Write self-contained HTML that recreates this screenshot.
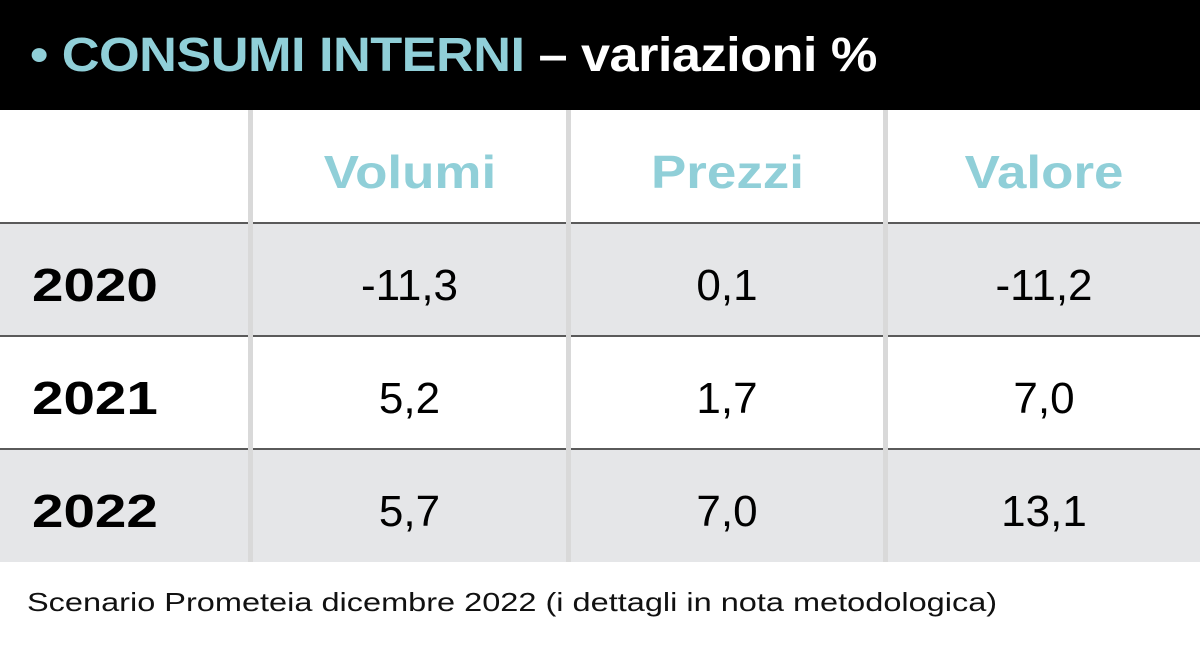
<!DOCTYPE html>
<html><head><meta charset="utf-8"><style>
body{margin:0;width:1200px;height:653px;background:#fff;font-family:"Liberation Sans",sans-serif;position:relative;overflow:hidden}
.hdr{position:absolute;left:0;top:0;width:1200px;height:110px;background:#000}
.title{position:absolute;left:30px;top:28px;font-size:48px;font-weight:bold;color:#fff;white-space:nowrap;letter-spacing:-0.5px;transform:scaleX(1.09);transform-origin:left top}
.title .t{color:#90cfd8}
.row{position:absolute;left:0;width:1200px}
.grey{background:#e5e6e8}
.hl{position:absolute;left:0;width:1200px;height:2px;background:#5a5a5a}
.vl{position:absolute;top:110px;width:5px;height:452px;background:#d9d9d9}
.c{position:absolute;text-align:center;font-size:44px;color:#000}
.h{color:#90cfd8;font-weight:bold;font-size:46px}
.h span{display:inline-block;transform:scaleX(1.15)}
.y{position:absolute;left:32px;font-weight:bold;font-size:46px;transform:scaleX(1.23);transform-origin:left top}
.foot{position:absolute;left:27px;top:587px;font-size:26px;color:#111;white-space:nowrap;transform:scaleX(1.25);transform-origin:left top}
</style></head><body>
<div class="hdr"></div>
<div class="title"><span class="t">• CONSUMI INTERNI</span> – variazioni %</div>
<div class="row grey" style="top:223px;height:112px"></div>
<div class="row grey" style="top:449px;height:113px"></div>
<div class="hl" style="top:222px"></div>
<div class="hl" style="top:335px"></div>
<div class="hl" style="top:448px"></div>
<div class="vl" style="left:248px"></div>
<div class="vl" style="left:566px"></div>
<div class="vl" style="left:883px"></div>

<div class="c h" style="left:253px;width:313px;top:145px"><span>Volumi</span></div>
<div class="c h" style="left:571px;width:312px;top:145px"><span>Prezzi</span></div>
<div class="c h" style="left:888px;width:312px;top:145px"><span>Valore</span></div>

<div class="y" style="top:258px">2020</div>
<div class="c" style="left:253px;width:313px;top:261px">-11,3</div>
<div class="c" style="left:571px;width:312px;top:261px">0,1</div>
<div class="c" style="left:888px;width:312px;top:261px">-11,2</div>

<div class="y" style="top:371px">2021</div>
<div class="c" style="left:253px;width:313px;top:374px">5,2</div>
<div class="c" style="left:571px;width:312px;top:374px">1,7</div>
<div class="c" style="left:888px;width:312px;top:374px">7,0</div>

<div class="y" style="top:484px">2022</div>
<div class="c" style="left:253px;width:313px;top:487px">5,7</div>
<div class="c" style="left:571px;width:312px;top:487px">7,0</div>
<div class="c" style="left:888px;width:312px;top:487px">13,1</div>

<div class="foot">Scenario Prometeia dicembre 2022 (i dettagli in nota metodologica)</div>
</body></html>
